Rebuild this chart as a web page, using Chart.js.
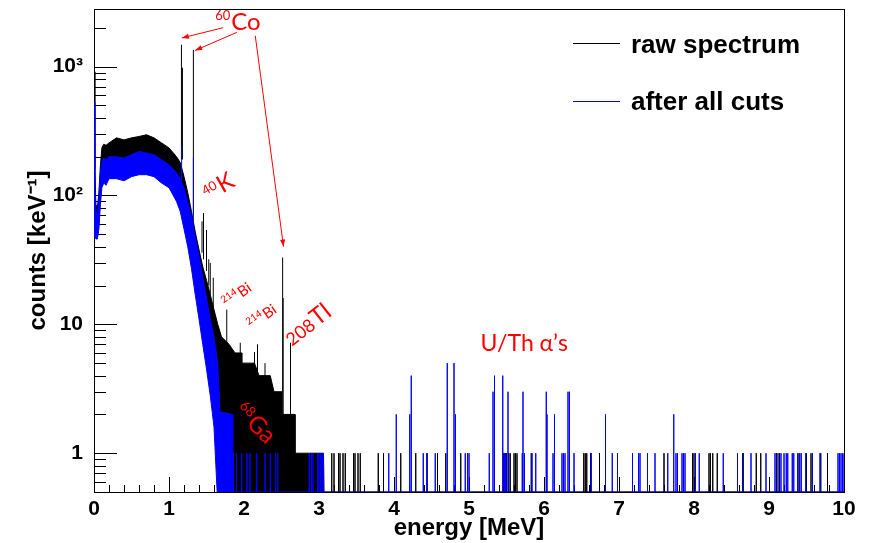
<!DOCTYPE html>
<html><head><meta charset="utf-8">
<script src="https://cdn.jsdelivr.net/npm/chart.js@4.4.1/dist/chart.umd.min.js"></script>
<style>html,body{margin:0;padding:0;background:#fff}</style>
</head><body>
<canvas id="c" width="869" height="543"></canvas>
<script>
// ---------------- data ----------------
const seriesLabels = ['raw spectrum', 'after all cuts'];

// raw spectrum: dense continuum band (upper / lower envelope), energy in MeV, counts per keV
const rawE  = [0.000,0.012,0.025,0.045,0.065,0.085,0.105,0.13,0.16,0.2,0.3,0.4,0.5,0.6,0.7,0.8,0.9,1.0,1.1,1.15,1.2,1.25,1.3,1.35,1.4,1.45,1.5,1.55,1.6,1.65,1.7,1.75,1.8,1.88,1.97,1.97,2.14,2.2,2.35,2.4,2.5,2.5,2.68,2.68,3.06,3.07];
const rawHi = [910,160,85,80,105,170,235,250,245,256,280,270,280,287,296,280,256,234,200,180,140,105,75,52,38,28,22,17,13,10,8,7.5,7,6,6,5,5,4,4,3,3,2,2,1,1,0.4];
const rawLo = [52,50,48,48,60,100,150,175,175,185,190,185,195,205,200,195,180,165,140,125,100,80,60,42,30,20,14,9,6,3,1.5,0.4,0.4,0.4,0.4,0.4,0.4,0.4,0.4,0.4,0.4,0.4,0.4,0.4,0.4,0.4];

// raw spectrum: single-bin peaks (energy, top, continuum level under it)
const rawPeakE    = [1.166,1.179,1.325,1.44,1.46,1.50,1.53,1.55,1.59,1.77,1.95,2.14,2.18,2.28,2.515,2.522,2.62];
const rawPeakTop  = [1480,980,1350,63,73,54,32,30,23,13,7.2,6.1,7.0,5.0,33,16,7.2];
const rawPeakBase = [190,190,70,36,32,26,20,17,13,7,5,4.5,4,3.5,2,2,1.5];

// raw spectrum: isolated counts at high energy
const rawSparseE = [3.17,3.20,3.26,3.28,3.32,3.35,3.46,3.48,3.52,3.55,3.79,3.86,4.09,4.29,4.44,4.58,4.69,4.89,5.46,5.48,5.50,5.53,5.55,5.60,5.62,5.64,5.83,6.53,6.55,6.57,6.62,6.74,7.60,7.98,8.00,8.20,8.22,8.25,8.31,8.65,8.83,8.89,9.10,9.14,9.40,9.50,9.56,9.69,9.78];
const rawSparseV = rawSparseE.map(() => 1);

// after all cuts: continuum band
const cutE  = [0.000,0.012,0.025,0.045,0.065,0.085,0.105,0.13,0.16,0.2,0.3,0.4,0.5,0.6,0.7,0.8,0.9,1.0,1.1,1.15,1.2,1.25,1.3,1.35,1.4,1.45,1.5,1.55,1.6,1.65,1.68,1.84,1.85];
const cutHi = [525,120,75,70,95,150,185,195,190,200,200,195,207,219,214,207,189,173,150,135,115,90,68,48,34,23,16,11,8,5,2.1,2,0.4];
const cutLo = [50,48,46,46,55,85,115,125,120,135,135,130,140,145,145,140,125,115,90,75,55,40,27,17,11,7,4.5,2.8,1.6,0.4,0.4,0.4,0.4];

// after all cuts: peaks
const cutPeakE    = [1.168,1.325];
const cutPeakTop  = [240,200];
const cutPeakBase = [130,60];

// after all cuts: isolated counts (U/Th alphas etc.)
const cutSparseE = [1.86,1.90,1.97,2.04,2.08,2.17,2.28,2.35,2.42,2.45,2.87,2.90,2.92,2.98,3.00,3.02,3.04,3.06,3.93,4.03,4.21,4.23,4.39,4.44,4.55,4.71,4.80,4.82,4.95,4.98,5.00,5.27,5.32,5.34,5.45,5.47,5.49,5.52,5.71,5.72,5.74,5.84,5.89,6.03,6.04,6.12,6.14,6.24,6.26,6.28,6.32,6.34,6.40,6.63,6.82,6.91,6.98,7.18,7.26,7.28,7.38,7.48,7.65,7.73,7.76,7.78,7.84,7.86,7.88,8.02,8.07,8.39,8.58,8.66,8.76,8.96,9.08,9.12,9.16,9.20,9.23,9.25,9.31,9.33,9.38,9.41,9.43,9.49,9.58,9.68,9.92,9.94,9.96,9.98,10.0];
const cutSparseV = [1,1,1,1,1,1,1,1,1,1,1,1,1,1,1,1,1,1,1,2,2,4,1,1,1,5,5,2,1,1,1,1,3,4,4,1,1,3,1,3,1,1,1,3,2,1,2,1,1,1,3,3,1,1,2,1,1,1,1,1,1,1,1,2,1,1,1,1,1,1,1,1,1,1,1,1,1,1,1,1,1,1,1,1,1,1,1,1,1,1,1,1,1,1,1];

// axes
const xTicks = [0,1,2,3,4,5,6,7,8,9,10];
const yTicks = [1,10,100,1000];
const yTickLabels = ['1','10','10\u00B2','10\u00B3'];
const Y_MIN = 0.5, Y_MAX = 2800, X_MIN = 0, X_MAX = 10;

// ---------------- annotation layout (data coordinates) ----------------
const labelFont = 'Lato, "Open Sans", sans-serif';
const annotations = [
  {E:1.615, v:1936, rot:0,   parts:[['60',13,-10],['Co',24,0]]},
  {E:1.526, v:89.7, rot:-30, parts:[['40',13,-7],['K',24,0]]},
  {E:1.772, v:13.3, rot:-35, parts:[['214',10,-6],['Bi',15,0]]},
  {E:2.105, v:9.03, rot:-35, parts:[['214',10,-6],['Bi',15,0]]},
  {E:2.639, v:6.70, rot:-38, parts:[['208',18,0],['Tl',24,0]]},
  {E:1.856, v:2.08, rot:45,  parts:[['68',14,-8],['Ga',24,0]]},
  {E:5.153, v:6.24, rot:0,   parts:[['U/Th \u03B1\u2019s',23,0]]}
];
const arrows = [
  {from:[1.722,2005], to:[1.171,1668], head:true},
  {from:[1.905,1845], to:[1.348,1336], head:true},
  {from:[2.150,1738], to:[2.527,40.1], head:true}
];

// ---------------- build datasets ----------------
const BLACK = '#000000', BLUE = '#0000ff';
function pts(xs, ys){ return xs.map((e,i)=>({x:e, y:ys[i]})); }
function spikes(es, tops, bases){ const d=[]; es.forEach((e,i)=>{ d.push({x:e,y:bases[i]},{x:e,y:tops[i]},{x:e,y:null}); }); return d; }
function sparse(es, vs, start, end){ const d=[{x:start,y:Y_MIN}]; es.forEach((e,i)=>{ d.push({x:e,y:Y_MIN},{x:e,y:vs[i]},{x:e,y:Y_MIN}); }); d.push({x:end,y:Y_MIN}); return d; }

const common = {pointRadius:0, borderWidth:1, tension:0, spanGaps:false};
const datasets = [
  Object.assign({label:seriesLabels[0]+' lo', data:pts(rawE,rawLo), borderColor:BLACK, fill:false, order:3}, common),
  Object.assign({label:seriesLabels[0], data:pts(rawE,rawHi), borderColor:BLACK, backgroundColor:BLACK, fill:'-1', order:3}, common),
  Object.assign({label:seriesLabels[0]+' peaks', data:spikes(rawPeakE,rawPeakTop,rawPeakBase), borderColor:BLACK, fill:false, order:3}, common),
  Object.assign({label:seriesLabels[0]+' sparse', data:sparse(rawSparseE,rawSparseV,1.75,X_MAX), borderColor:BLACK, fill:false, order:3}, common),
  Object.assign({label:seriesLabels[1]+' lo', data:pts(cutE,cutLo), borderColor:BLUE, fill:false, order:1}, common),
  Object.assign({label:seriesLabels[1], data:pts(cutE,cutHi), borderColor:BLUE, backgroundColor:BLUE, fill:'-1', order:1}, common),
  Object.assign({label:seriesLabels[1]+' peaks', data:spikes(cutPeakE,cutPeakTop,cutPeakBase), borderColor:BLUE, fill:false, order:1}, common),
  Object.assign({label:seriesLabels[1]+' sparse', data:sparse(cutSparseE,cutSparseV,1.65,X_MAX), borderColor:BLUE, fill:false, order:1}, common)
];

// ---------------- plugins ----------------
const framePlugin = {
  id:'frameTicks',
  beforeDatasetsDraw(chart){
    const {ctx, chartArea:a, scales:{x,y}} = chart;
    ctx.save();
    ctx.strokeStyle = '#000'; ctx.lineWidth = 1;
    ctx.strokeRect(a.left+0.5, a.top+0.5, a.right-a.left, a.bottom-a.top);
    ctx.beginPath();
    for (let k=0; k<=50; k++){
      const v = X_MIN + k*0.2;
      const px = Math.round(x.getPixelForValue(v)) + 0.5;
      const len = (k%5===0) ? 15 : 7;
      ctx.moveTo(px, a.bottom); ctx.lineTo(px, a.bottom-len);
    }
    for (let e=-1; e<=3; e++){
      for (let m=1; m<=9; m++){
        const v = m*Math.pow(10,e);
        if (v < Y_MIN || v > Y_MAX) continue;
        const py = Math.round(y.getPixelForValue(v)) + 0.5;
        const len = (m===1) ? 23 : 12;
        ctx.moveTo(a.left, py); ctx.lineTo(a.left+len, py);
      }
    }
    ctx.stroke();
    ctx.restore();
  }
};

const annotPlugin = {
  id:'annot',
  afterDatasetsDraw(chart){
    const {ctx, scales:{x,y}} = chart;
    ctx.save();
    ctx.strokeStyle = '#ff0000'; ctx.fillStyle = '#ff0000'; ctx.lineWidth = 1;
    arrows.forEach(ar=>{
      const x1=x.getPixelForValue(ar.from[0]), y1=y.getPixelForValue(ar.from[1]);
      const x2=x.getPixelForValue(ar.to[0]), y2=y.getPixelForValue(ar.to[1]);
      ctx.beginPath(); ctx.moveTo(x1,y1); ctx.lineTo(x2,y2); ctx.stroke();
      if (ar.head){
        const ang=Math.atan2(y2-y1,x2-x1), L=7, W=2.6;
        ctx.beginPath();
        ctx.moveTo(x2,y2);
        ctx.lineTo(x2-L*Math.cos(ang)+W*Math.sin(ang), y2-L*Math.sin(ang)-W*Math.cos(ang));
        ctx.lineTo(x2-L*Math.cos(ang)-W*Math.sin(ang), y2-L*Math.sin(ang)+W*Math.cos(ang));
        ctx.closePath(); ctx.fill();
      }
    });
    annotations.forEach(an=>{
      const px=x.getPixelForValue(an.E), py=y.getPixelForValue(an.v);
      ctx.save();
      ctx.translate(px,py); ctx.rotate(an.rot*Math.PI/180);
      ctx.textBaseline='alphabetic'; ctx.textAlign='left';
      let cx=0;
      an.parts.forEach(p=>{
        ctx.font = p[1]+'px '+labelFont;
        ctx.fillText(p[0], cx, p[2]);
        cx += ctx.measureText(p[0]).width + 1;
      });
      ctx.restore();
    });
    ctx.restore();
  }
};

const legendPlugin = {
  id:'rootLegend',
  afterDraw(chart){
    const {ctx} = chart;
    const entries = [{label:seriesLabels[0], color:BLACK, ly:43.5, ty:53},{label:seriesLabels[1], color:BLUE, ly:101.5, ty:110}];
    ctx.save();
    entries.forEach(en=>{
      ctx.strokeStyle = en.color; ctx.lineWidth = 1;
      ctx.beginPath(); ctx.moveTo(573, en.ly); ctx.lineTo(620, en.ly); ctx.stroke();
      ctx.fillStyle = '#000';
      ctx.font = 'bold 26px "Liberation Sans", Arial, sans-serif';
      ctx.textBaseline = 'alphabetic'; ctx.textAlign = 'left';
      ctx.fillText(en.label, 631, en.ty);
    });
    ctx.restore();
  }
};

Chart.defaults.font.family = '"Liberation Sans", Arial, sans-serif';
Chart.defaults.color = '#000';

new Chart(document.getElementById('c'), {
  type:'line',
  data:{datasets},
  options:{
    responsive:false, animation:false, devicePixelRatio:1, events:[],
    layout:{padding:{top:9, right:25, left:0, bottom:0}},
    plugins:{legend:{display:false}, tooltip:{enabled:false}},
    scales:{
      x:{type:'linear', min:X_MIN, max:X_MAX, bounds:'data',
        grid:{display:false, drawTicks:false}, border:{display:false},
        ticks:{autoSkip:false, maxRotation:0, padding:5, color:'#000', font:{size:21, weight:'bold'}, callback:(v)=>String(v)},
        afterBuildTicks:(s)=>{ s.ticks = xTicks.map(v=>({value:v})); },
        afterFit:(s)=>{ s.height = 51; s.paddingLeft = 0; s.paddingRight = 0; },
        title:{display:true, text:'energy [MeV]', color:'#000', font:{size:24, weight:'bold'}, padding:{top:0, bottom:0}}
      },
      y:{type:'logarithmic', min:Y_MIN, max:Y_MAX, bounds:'data',
        grid:{display:false, drawTicks:false}, border:{display:false},
        ticks:{autoSkip:false, padding:11, color:'#000', font:{size:21, weight:'bold'},
          callback:(v)=>{ const i = yTicks.indexOf(v); return i>=0 ? yTickLabels[i] : ''; }},
        afterBuildTicks:(s)=>{ s.ticks = yTicks.map(v=>({value:v})); },
        afterFit:(s)=>{ s.width = 94; s.paddingTop = 0; s.paddingBottom = 0; },
        title:{display:true, text:'counts [keV\u207B\u00B9]', color:'#000', font:{size:24, weight:'bold'}, padding:{top:24, bottom:0}}
      }
    }
  },
  plugins:[framePlugin, annotPlugin, legendPlugin]
});
</script>
</body></html>
